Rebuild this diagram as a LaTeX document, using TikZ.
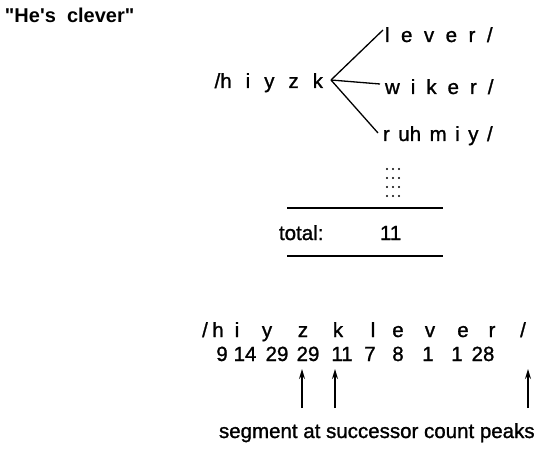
\documentclass[tikz,border=0pt]{standalone}
\usepackage{fontspec}
\setmainfont{Liberation Sans}
\newfontfamily\heavysans[FakeBold=1.2]{Liberation Sans}
\newfontfamily\titlesans[Ligatures=TeXOff]{Liberation Sans}
\usetikzlibrary{arrows.meta}
\begin{document}
\begin{tikzpicture}[x=1pt,y=-1pt,
  txt/.style={inner sep=0pt,outer sep=0pt,font=\heavysans\fontsize{20.5}{24}\selectfont},
  ttl/.style={inner sep=0pt,outer sep=0pt,font=\titlesans\fontsize{20}{24}\selectfont\bfseries,anchor=base west},
  col/.style={txt,anchor=base},
  branch/.style={line width=1.3pt},
  rule/.style={line width=1.3pt},
  peak/.style={line width=1.3pt,-{Stealth[length=10pt,width=6pt]}},
  dot/.style={fill=black}]
\useasboundingbox (0,0) rectangle (543,449);

% title
\node[ttl] (title) at (5,23) {"He's\ \ clever"};

% stem and branches
\node[txt,anchor=base east] (stem) at (323,88) {\spaceskip=14pt\relax /h i y z k};
\coordinate (br) at (331,80);
\node[txt,anchor=base west] (b1) at (385,42) {\spaceskip=11.5pt\relax l e v e r /};
\node[txt,anchor=base west] (b2) at (385,94) {\spaceskip=11pt\relax w i k e r /};
\node[txt,anchor=base west] (b3) at (383,141) {\spaceskip=8.5pt\relax r uh m i y /};
\coordinate (e1) at (383,30);
\coordinate (e2) at (380,84);
\coordinate (e3) at (378,133);
\draw[branch] (br) -- (e1);
\draw[branch] (br) -- (e2);
\draw[branch] (br) -- (e3);

% dots
\foreach \yy in {169,178,187,196}{
  \foreach \xx in {387,393,399}{
    \fill[dot] (\xx,\yy) circle (1.2pt);
  }
}

% total
\coordinate (r1a) at (287,208);
\coordinate (r1b) at (443,208);
\coordinate (r2a) at (287,256);
\coordinate (r2b) at (443,256);
\draw[rule] (r1a) -- (r1b);
\draw[rule] (r2a) -- (r2b);
\node[txt,anchor=base west] (total) at (279,240) {total:};
\node[txt,anchor=base west] (count) at (380,240) {11};

% letter row
\node[col] (l1) at (205,337) {/};
\node[col] (l2) at (218,337) {h};
\node[col] (l3) at (237,337) {i};
\node[col] (l4) at (267,337) {y};
\node[col] (l5) at (303,337) {z};
\node[col] (l6) at (338,337) {k};
\node[col] (l7) at (373,337) {l};
\node[col] (l8) at (398,337) {e};
\node[col] (l9) at (430,337) {v};
\node[col] (l10) at (463,337) {e};
\node[col] (l11) at (492,337) {r};
\node[col] (l12) at (523,337) {/};

% number row
\node[col] (n1) at (222,361) {9};
\node[col] (n2) at (245,361) {14};
\node[col] (n3) at (277,361) {29};
\node[col] (n4) at (308,361) {29};
\node[col] (n5) at (342,361) {11};
\node[col] (n6) at (370,361) {7};
\node[col] (n7) at (398,361) {8};
\node[col] (n8) at (428,361) {1};
\node[col] (n9) at (457,361) {1};
\node[col] (n10) at (483,361) {28};

% arrows
\coordinate (a1b) at (302,408); \coordinate (a1t) at (302,369);
\coordinate (a2b) at (335,408); \coordinate (a2t) at (335,369);
\coordinate (a3b) at (528,408); \coordinate (a3t) at (528,369);
\draw[peak] (a1b) -- (a1t);
\draw[peak] (a2b) -- (a2t);
\draw[peak] (a3b) -- (a3t);

\node[txt,anchor=base west] (caption) at (219,438) {segment at successor count peaks};
\end{tikzpicture}
\end{document}
